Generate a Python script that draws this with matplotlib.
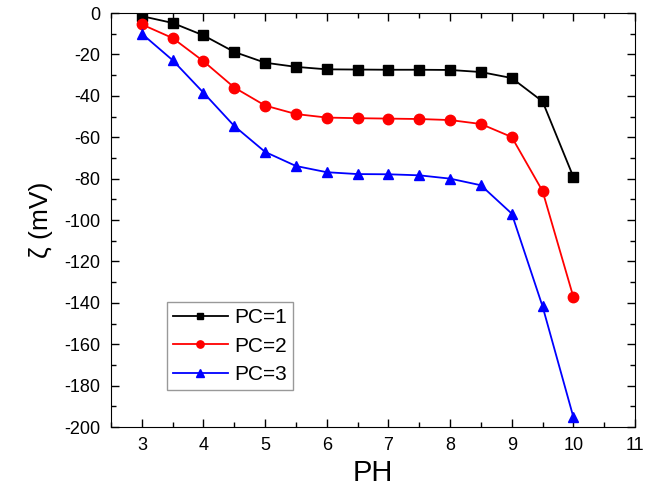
import matplotlib
matplotlib.use("Agg")
import matplotlib.pyplot as plt
from matplotlib.ticker import MultipleLocator

plt.rcParams['font.family'] = ['Liberation Sans', 'DejaVu Sans']
plt.rcParams['axes.unicode_minus'] = False

# --- DATA ---
ph = [3, 3.5, 4, 4.5, 5, 5.5, 6, 6.5, 7, 7.5, 8, 8.5, 9, 9.5, 10]
pc1 = [-1.5, -4.8, -10.8, -18.8, -24.0, -26.0, -27.2, -27.3, -27.4, -27.4, -27.5, -28.5, -31.4, -42.7, -79.2]
pc2 = [-5.5, -12.1, -23.3, -36.0, -44.7, -48.8, -50.5, -50.8, -51.0, -51.2, -51.7, -53.6, -59.9, -86.0, -137.2]
pc3 = [-10.0, -22.8, -38.5, -54.6, -67.1, -73.9, -76.9, -77.8, -77.9, -78.4, -80.0, -83.2, -96.9, -141.7, -195.2]

fig = plt.figure(figsize=(6.55, 4.94), dpi=100)
ax = fig.add_axes([0.1695, 0.1356, 0.80, 0.838])

ax.plot(ph, pc1, marker='s', color='black', lw=1.3, ms=6.5, label='PC=1')
ax.plot(ph, pc2, marker='o', color='red', lw=1.3, ms=7.5, label='PC=2')
ax.plot(ph, pc3, marker='^', color='blue', lw=1.3, ms=7.5, label='PC=3')

ax.set_xlim(2.5, 11)
ax.set_ylim(-200, 0)
ax.set_xticks(range(3, 12))
ax.xaxis.set_minor_locator(MultipleLocator(0.5))
ax.yaxis.set_major_locator(MultipleLocator(20))
ax.yaxis.set_minor_locator(MultipleLocator(10))
ax.tick_params(which='both', direction='in', top=True, right=True, labelsize=13)
ax.tick_params(which='major', length=6, width=1)
ax.tick_params(which='minor', length=3.5, width=1)
ax.tick_params(axis='x', pad=7)
ax.tick_params(axis='y', pad=8)

ax.set_xlabel('PH', fontsize=21)
ax.set_ylabel('ζ (mV)', fontsize=19, labelpad=8)

leg = ax.legend(loc='lower left', bbox_to_anchor=(0.107, 0.089), borderaxespad=0,
                fontsize=15, frameon=True, fancybox=False, edgecolor='gray',
                handlelength=2.6, handletextpad=0.3, borderpad=0.3,
                labelspacing=0.45, markerscale=0.7)
leg.get_frame().set_linewidth(1.0)

plt.savefig("out.png", dpi=100)
